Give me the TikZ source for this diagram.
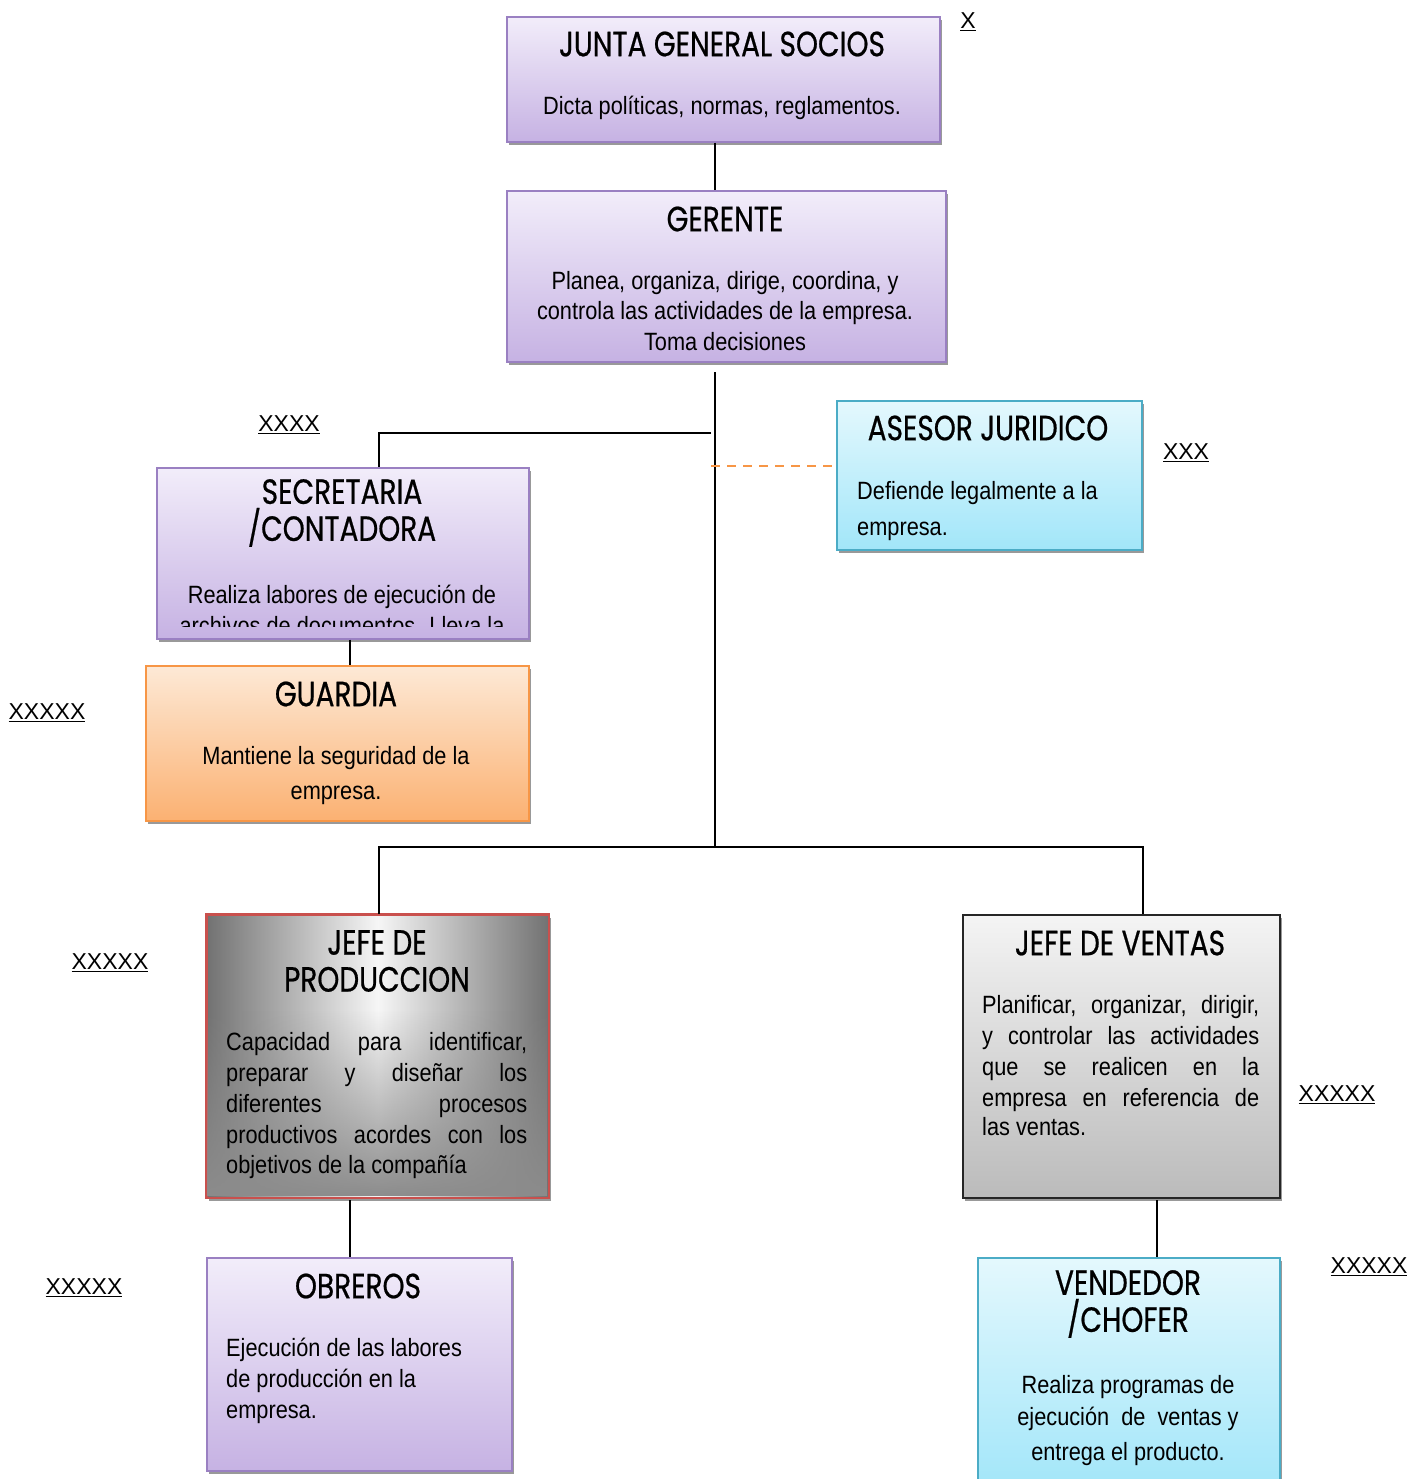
\documentclass[tikz,border=0pt]{standalone}
\usepackage{fontspec}
\setmainfont{Liberation Sans}
\newfontfamily\bodyfont{Liberation Sans}[FakeStretch=0.87]
\newfontfamily\headfont{Poppins}[FakeStretch=0.8,FakeBold=0.6]
\usetikzlibrary{calc,shadows,fadings}
\definecolor{pTop}{HTML}{F2EDFA}
\definecolor{pBot}{HTML}{C6B2E3}
\definecolor{pBorder}{HTML}{9A80C2}
\definecolor{cTop}{HTML}{E4F8FD}
\definecolor{cBot}{HTML}{A2E6F9}
\definecolor{cBorder}{HTML}{4BACC6}
\definecolor{oTop}{HTML}{FDE9D6}
\definecolor{oBot}{HTML}{FBB172}
\definecolor{oBorder}{HTML}{F79646}
\definecolor{gTop}{HTML}{F4F4F4}
\definecolor{gBot}{HTML}{BBBBBB}
\definecolor{rBorder}{HTML}{C9504D}
\definecolor{dashOrange}{HTML}{F79646}
\definecolor{prodEdge}{HTML}{727272}
\definecolor{prodMid}{HTML}{F6F6F6}
\begin{document}
\begin{tikzpicture}[x=1pt,y=-1pt,
  orgbox/.style={line width=1.6pt, inner sep=0pt, anchor=north west,
     drop shadow={shadow xshift=2pt, shadow yshift=-3pt, fill=black!40, opacity=1}},
  purplebox/.style={orgbox, draw=pBorder, top color=pTop, bottom color=pBot},
  cyanbox/.style={orgbox, draw=cBorder, top color=cTop, bottom color=cBot},
  orangebox/.style={orgbox, draw=oBorder, top color=oTop, bottom color=oBot},
  greybox/.style={orgbox, draw=black!85, top color=gTop, bottom color=gBot},
  prodbox/.style={orgbox, draw=rBorder, left color=prodEdge, right color=prodEdge, middle color=prodMid},
  head/.style={font=\headfont\fontsize{35}{37}\selectfont, align=center, inner sep=0pt},
  body/.style={font=\bodyfont\fontsize{25}{30.8}\selectfont, inner sep=0pt},
  tag/.style={font=\fontsize{23}{26}\selectfont, inner sep=0pt},
  conn/.style={line width=1.6pt, black}]
\useasboundingbox (0,0) rectangle (1413,1479);

% boxes
\node[purplebox, minimum width=433pt, minimum height=125pt] (junta) at (506,16) {};
\node[purplebox, minimum width=439pt, minimum height=171pt] (gerente) at (506,190) {};
\node[cyanbox, minimum width=305pt, minimum height=149pt] (asesor) at (836,400) {};
\node[purplebox, minimum width=372pt, minimum height=171pt] (secre) at (156,467) {};
\node[orangebox, minimum width=383pt, minimum height=155pt] (guardia) at (145,665) {};
\node[prodbox, minimum width=342pt, minimum height=283pt] (prod) at (206,914) {};
\fill[black!45, path fading=north] (207,1010) rectangle (547,1196);
\draw[rBorder, line width=1.6pt] (prod.north west) rectangle (prod.south east);
\node[greybox, minimum width=317pt, minimum height=283pt] (ventas) at (962,914) {};
\node[purplebox, minimum width=305pt, minimum height=213pt] (obreros) at (206,1257) {};
\node[cyanbox, minimum width=302pt, minimum height=232pt] (vendedor) at (977,1257) {};

% connectors
\coordinate (trunkTop) at (715,372);
\coordinate (junc) at (715,847);
\coordinate (secJ) at (711,433);
\coordinate (aseJ) at (711,466);
\draw[conn] (715,0 |- junta.south) -- (715,0 |- gerente.north);
\draw[conn] (trunkTop) -- (junc);
\draw[conn] (secJ) -- (379,433) -- (379,0 |- secre.north);
\draw[dashOrange, line width=1.8pt, dash pattern=on 9pt off 7pt] (aseJ) -- (asesor.west |- aseJ);
\draw[conn] (secre.south -| 350,0) -- (guardia.north -| 350,0);
\draw[conn] (379,0 |- prod.north) -- (379,847) -- (junc) -- (1143,847) -- (1143,0 |- ventas.north);
\draw[conn] (350,1200) -- (350,0 |- obreros.north);
\draw[conn] (1157,1200) -- (1157,0 |- vendedor.north);

% texts: junta
\node[head] (juntaT) at (722,44) {JUNTA GENERAL SOCIOS};
\node[body, anchor=mid] (juntaB) at (722,112) {Dicta políticas, normas, reglamentos.};
% gerente
\node[head] (gerT) at (725,219) {GERENTE};
\node[body, anchor=mid] (gerB1) at (725,287) {Planea, organiza, dirige, coordina, y};
\node[body, anchor=mid] (gerB2) at (725,317) {controla las actividades de la empresa.};
\node[body, anchor=mid] (gerB3) at (725,348) {Toma decisiones};
% asesor
\node[head] (aseT) at (988,428) {ASESOR JURIDICO};
\node[body, anchor=mid west] (aseB1) at (857,497) {Defiende legalmente a la};
\node[body, anchor=mid west] (aseB2) at (857,533) {empresa.};
% secretaria
\node[head] (secT) at (342,513) {SECRETARIA\\/CONTADORA};
\begin{scope}
\clip (158,560) rectangle (526,626);
\node[body, anchor=mid] (secB1) at (342,601) {Realiza labores de ejecución de};
\node[body, anchor=mid] (secB2) at (342,632) {archivos de documentos. Lleva la};
\end{scope}
% guardia
\node[head] (guaT) at (336,694) {GUARDIA};
\node[body, anchor=mid] (guaB1) at (336,762) {Mantiene la seguridad de la};
\node[body, anchor=mid] (guaB2) at (336,797) {empresa.};
% jefe produccion
\node[head] (prodT) at (377,961) {JEFE DE\\PRODUCCION};
\node[body, anchor=mid west] (prodB1) at (226,1048) {\makebox[301pt][s]{Capacidad para identificar,}};
\node[body, anchor=mid west] (prodB2) at (226,1079) {\makebox[301pt][s]{preparar y diseñar los}};
\node[body, anchor=mid west] (prodB3) at (226,1110) {\makebox[301pt][s]{diferentes procesos}};
\node[body, anchor=mid west] (prodB4) at (226,1141) {\makebox[301pt][s]{productivos acordes con los}};
\node[body, anchor=mid west] (prodB5) at (226,1171) {objetivos de la compañía};
% jefe ventas
\node[head] (venT) at (1120,943) {JEFE DE VENTAS};
\node[body, anchor=mid west] (venB1) at (982,1011) {\makebox[277pt][s]{Planificar, organizar, dirigir,}};
\node[body, anchor=mid west] (venB2) at (982,1042) {\makebox[277pt][s]{y controlar las actividades}};
\node[body, anchor=mid west] (venB3) at (982,1073) {\makebox[277pt][s]{que se realicen en la}};
\node[body, anchor=mid west] (venB4) at (982,1104) {\makebox[277pt][s]{empresa en referencia de}};
\node[body, anchor=mid west] (venB5) at (982,1133) {las ventas.};
% obreros
\node[head] (obrT) at (358,1286) {OBREROS};
\node[body, anchor=mid west] (obrB1) at (226,1354) {Ejecución de las labores};
\node[body, anchor=mid west] (obrB2) at (226,1385) {de producción en la};
\node[body, anchor=mid west] (obrB3) at (226,1416) {empresa.};
% vendedor
\node[head] (vdT) at (1128,1304) {VENDEDOR\\/CHOFER};
\node[body, anchor=mid] (vdB1) at (1128,1391) {Realiza programas de};
\node[body, anchor=mid] (vdB2) at (1128,1423) {ejecución\ \ de\ \ ventas y};
\node[body, anchor=mid] (vdB3) at (1128,1458) {entrega el producto.};

% side tags
\node[tag] (t1) at (968,22) {\underline{X}};
\node[tag] (t2) at (289,425) {\underline{XXXX}};
\node[tag] (t3) at (1186,453) {\underline{XXX}};
\node[tag] (t4) at (47,713) {\underline{XXXXX}};
\node[tag] (t5) at (110,963) {\underline{XXXXX}};
\node[tag] (t6) at (1337,1095) {\underline{XXXXX}};
\node[tag] (t7) at (84,1288) {\underline{XXXXX}};
\node[tag] (t8) at (1369,1267) {\underline{XXXXX}};
\end{tikzpicture}
\end{document}
